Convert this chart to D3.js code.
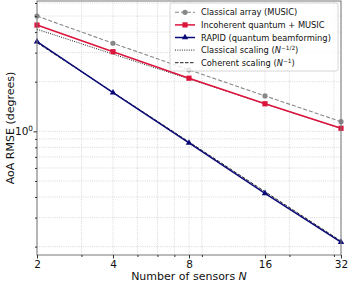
<!DOCTYPE html>
<html><head><meta charset="utf-8">
<script src="https://cdn.jsdelivr.net/npm/d3@7"></script>
<style>
body{margin:0;background:#fff;}
text{font-family:"DejaVu Sans",sans-serif;}
</style></head>
<body><svg id="c" width="349" height="283"></svg>
<script>
const sensors = [2, 4, 8, 16, 32];
const classicalArray = [5.0, 3.42, 2.36, 1.64, 1.145];
const incoherentQuantum = [4.41, 3.04, 2.10, 1.47, 1.044];
const rapid = [3.50, 1.716, 0.851, 0.421, 0.213];
const classicalScaling = [4.16, 2.94, 2.08, 1.47, 1.04];
const coherentScaling = [3.45, 1.725, 0.8625, 0.431, 0.216];
const xTicks = [2, 4, 8, 16, 32];
const xMinor = [3, 5, 6, 7, 9, 20, 30];
const yMajor = [1];
const yMinor = [0.2, 0.3, 0.4, 0.5, 0.6, 0.7, 0.8, 0.9, 2, 3, 4, 5, 6];

const svg = d3.select("#c");
const L = 37, R = 341, T = 1, B = 255;
const x = d3.scaleLog().base(2).domain([2, 32]).range([L, R]);
const y = d3.scaleLog().domain([0.178, 6.17]).range([B, T]);

const grid = svg.append("g");
[...xTicks, ...xMinor].forEach(v => {
  grid.append("line").attr("x1", x(v)).attr("x2", x(v)).attr("y1", T).attr("y2", B)
    .attr("stroke", "#c8c8c8").attr("stroke-width", 0.7).attr("stroke-dasharray", "1,1.2");
});
[...yMajor, ...yMinor].forEach(v => {
  grid.append("line").attr("x1", L).attr("x2", R).attr("y1", y(v)).attr("y2", y(v))
    .attr("stroke", "#c8c8c8").attr("stroke-width", 0.7).attr("stroke-dasharray", "1,1.2");
});

const line = d3.line().x((d, i) => x(sensors[i])).y(d => y(d));
function series(data, color, width, dash) {
  svg.append("path").datum(data).attr("d", line).attr("fill", "none")
    .attr("stroke", color).attr("stroke-width", width).attr("stroke-dasharray", dash || null);
}
series(classicalArray, "#888888", 1.1, "4,2");
series(classicalScaling, "#222222", 1.0, "1,1.3");
series(coherentScaling, "#222222", 1.0, "3.5,1.5");
series(incoherentQuantum, "#dc143c", 1.5);
series(rapid, "#0a0a78", 1.5);

const mk = svg.append("g");
classicalArray.forEach((v, i) => mk.append("circle").attr("cx", x(sensors[i])).attr("cy", y(v)).attr("r", 2.6).attr("fill", "#888888"));
incoherentQuantum.forEach((v, i) => mk.append("rect").attr("x", x(sensors[i]) - 2.6).attr("y", y(v) - 2.6).attr("width", 5.2).attr("height", 5.2).attr("fill", "#dc143c"));
const tri = d3.symbol().type(d3.symbolTriangle).size(18);
rapid.forEach((v, i) => mk.append("path").attr("d", tri()).attr("transform", `translate(${x(sensors[i])},${y(v)})`).attr("fill", "#0a0a78"));

// spines
svg.append("rect").attr("x", L).attr("y", T).attr("width", R - L).attr("height", B - T)
  .attr("fill", "none").attr("stroke", "#777").attr("stroke-width", 1);

// x axis
const xAxis = d3.axisBottom(x).tickValues(xTicks).tickFormat(d3.format("d")).tickSize(3.5).tickPadding(2);
const gx = svg.append("g").attr("transform", `translate(0,${B})`).call(xAxis);
gx.select(".domain").remove();
gx.selectAll("text").attr("font-size", 10.5).attr("fill", "#111").attr("font-family", "DejaVu Sans");
gx.selectAll("line").attr("stroke", "#333");
const gxm = svg.append("g").attr("transform", `translate(0,${B})`).call(d3.axisBottom(x).tickValues(xMinor).tickFormat("").tickSize(2));
gxm.select(".domain").remove(); gxm.selectAll("line").attr("stroke", "#333");

// y axis
const gy = svg.append("g").attr("transform", `translate(${L},0)`).call(d3.axisLeft(y).tickValues(yMajor).tickFormat("").tickSize(3.5));
gy.select(".domain").remove(); gy.selectAll("line").attr("stroke", "#333");
const gym = svg.append("g").attr("transform", `translate(${L},0)`).call(d3.axisLeft(y).tickValues(yMinor).tickFormat("").tickSize(2));
gym.select(".domain").remove(); gym.selectAll("line").attr("stroke", "#333");
const yl = svg.append("text").attr("x", L - 4).attr("y", y(1) + 3.8).attr("text-anchor", "end").attr("font-size", 10.5).attr("fill", "#111");
yl.append("tspan").text("10");
yl.append("tspan").attr("dy", -4.5).attr("font-size", 7.3).text("0");

// axis labels
const xlab = svg.append("text").attr("x", (L + R) / 2).attr("y", 280).attr("text-anchor", "middle").attr("font-size", 11).attr("fill", "#111");
xlab.append("tspan").text("Number of sensors ");
xlab.append("tspan").attr("font-style", "italic").text("N");
svg.append("text").attr("transform", `translate(13.5,${(T + B) / 2}) rotate(-90)`).attr("text-anchor", "middle")
  .attr("font-size", 11).attr("fill", "#111").text("AoA RMSE (degrees)");

// legend
const lg = svg.append("g");
const lx = 170, ly = 3, lw = 168, lh = 68;
lg.append("rect").attr("x", lx).attr("y", ly).attr("width", lw).attr("height", lh).attr("rx", 2)
  .attr("fill", "#fff").attr("fill-opacity", 0.8).attr("stroke", "#ccc").attr("stroke-width", 0.8);
const items = [
  {c: "#888888", dash: "4,2", w: 1.1, m: "circle", label: ["Classical array (MUSIC)"]},
  {c: "#dc143c", w: 1.5, m: "square", label: ["Incoherent quantum + MUSIC"]},
  {c: "#0a0a78", w: 1.5, m: "tri", label: ["RAPID (quantum beamforming)"]},
  {c: "#222222", dash: "1,1.3", w: 1.0, label: ["Classical scaling (", "N", "−1/2", ")"]},
  {c: "#222222", dash: "3.5,1.5", w: 1.0, label: ["Coherent scaling (", "N", "−1", ")"]}
];
items.forEach((it, i) => {
  const cy = 12.3 + i * 12.6;
  lg.append("line").attr("x1", 175).attr("x2", 195).attr("y1", cy).attr("y2", cy)
    .attr("stroke", it.c).attr("stroke-width", it.w).attr("stroke-dasharray", it.dash || null);
  if (it.m === "circle") lg.append("circle").attr("cx", 185).attr("cy", cy).attr("r", 2.6).attr("fill", it.c);
  if (it.m === "square") lg.append("rect").attr("x", 182.4).attr("y", cy - 2.6).attr("width", 5.2).attr("height", 5.2).attr("fill", it.c);
  if (it.m === "tri") lg.append("path").attr("d", tri()).attr("transform", `translate(185,${cy})`).attr("fill", it.c);
  const t = lg.append("text").attr("x", 201).attr("y", cy + 3).attr("font-size", 8.3).attr("fill", "#111");
  t.append("tspan").text(it.label[0]);
  if (it.label.length > 1) {
    t.append("tspan").attr("font-style", "italic").text(it.label[1]);
    t.append("tspan").attr("dy", -3).attr("font-size", 5.8).text(it.label[2]);
    t.append("tspan").attr("dy", 3).text(it.label[3]);
  }
});
</script></body></html>
